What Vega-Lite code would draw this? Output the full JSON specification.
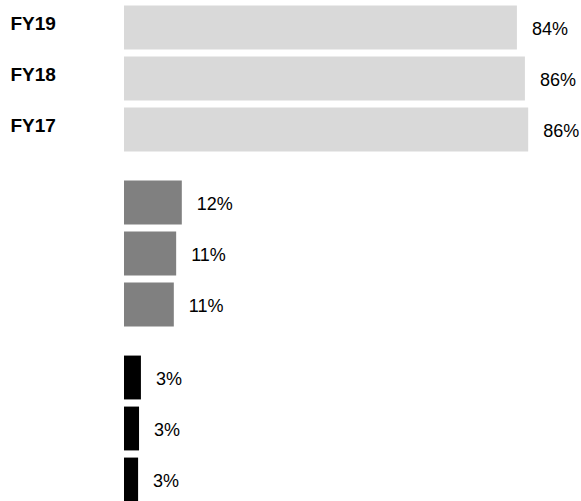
{
  "$schema": "https://vega.github.io/schema/vega-lite/v6.json",
  "padding": {"left": 10, "top": 2, "right": 0, "bottom": 0},
  "config": {"view": {"stroke": null}, "font": "Liberation Sans", "concat": {"spacing": 22}},
  "datasets": {
    "rows": [
      {"group": "A", "year": "FY19", "value": 83.6, "label": "84%"},
      {"group": "A", "year": "FY18", "value": 85.3, "label": "86%"},
      {"group": "A", "year": "FY17", "value": 86.0, "label": "86%"},
      {"group": "B", "year": "FY19", "value": 12.3, "label": "12%"},
      {"group": "B", "year": "FY18", "value": 11.1, "label": "11%"},
      {"group": "B", "year": "FY17", "value": 10.6, "label": "11%"},
      {"group": "C", "year": "FY19", "value": 3.6, "label": "3%"},
      {"group": "C", "year": "FY18", "value": 3.2, "label": "3%"},
      {"group": "C", "year": "FY17", "value": 3.0, "label": "3%"}
    ]
  },
  "vconcat": [
    {
      "data": {"name": "rows"},
      "transform": [{"filter": "datum.group == 'A'"}],
      "width": 470,
      "height": {"step": 51},
      "encoding": {
        "y": {"field": "year", "type": "nominal", "sort": ["FY19", "FY18", "FY17"],
              "scale": {"paddingInner": 0.14, "paddingOuter": 0.07},
              "axis": {"title": null, "domain": false, "ticks": false, "labelAlign": "left", "labelPadding": 114, "labelFontSize": 19, "labelFontWeight": "bold", "labelColor": "#000000", "labelOffset": -4}},
        "x": {"field": "value", "type": "quantitative", "scale": {"domain": [0, 100]}, "axis": null}
      },
      "layer": [
        {"mark": {"type": "bar"}, "encoding": {"color": {"field": "group", "type": "nominal", "scale": {"domain": ["A", "B", "C"], "range": ["#d9d9d9", "#808080", "#000000"]}, "legend": null}}},
        {"mark": {"type": "text", "align": "left", "baseline": "middle", "dx": 15, "dy": 2, "fontSize": 18, "color": "#000000"}, "encoding": {"text": {"field": "label"}}}
      ]
    },
    {
      "data": {"name": "rows"},
      "transform": [{"filter": "datum.group == 'B'"}],
      "width": 470,
      "height": {"step": 51},
      "encoding": {
        "y": {"field": "year", "type": "nominal", "sort": ["FY19", "FY18", "FY17"],
              "scale": {"paddingInner": 0.14, "paddingOuter": 0.07}, "axis": null},
        "x": {"field": "value", "type": "quantitative", "scale": {"domain": [0, 100]}, "axis": null}
      },
      "layer": [
        {"mark": {"type": "bar"}, "encoding": {"color": {"field": "group", "type": "nominal", "scale": {"domain": ["A", "B", "C"], "range": ["#d9d9d9", "#808080", "#000000"]}, "legend": null}}},
        {"mark": {"type": "text", "align": "left", "baseline": "middle", "dx": 15, "dy": 2, "fontSize": 18, "color": "#000000"}, "encoding": {"text": {"field": "label"}}}
      ]
    },
    {
      "data": {"name": "rows"},
      "transform": [{"filter": "datum.group == 'C'"}],
      "width": 470,
      "height": {"step": 51},
      "encoding": {
        "y": {"field": "year", "type": "nominal", "sort": ["FY19", "FY18", "FY17"],
              "scale": {"paddingInner": 0.14, "paddingOuter": 0.07}, "axis": null},
        "x": {"field": "value", "type": "quantitative", "scale": {"domain": [0, 100]}, "axis": null}
      },
      "layer": [
        {"mark": {"type": "bar"}, "encoding": {"color": {"field": "group", "type": "nominal", "scale": {"domain": ["A", "B", "C"], "range": ["#d9d9d9", "#808080", "#000000"]}, "legend": null}}},
        {"mark": {"type": "text", "align": "left", "baseline": "middle", "dx": 15, "dy": 2, "fontSize": 18, "color": "#000000"}, "encoding": {"text": {"field": "label"}}}
      ]
    }
  ]
}
